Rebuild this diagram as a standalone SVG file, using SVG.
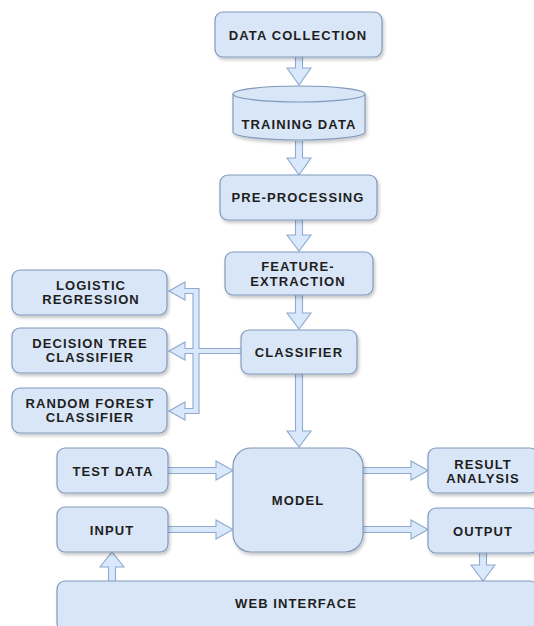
<svg xmlns="http://www.w3.org/2000/svg" width="534" height="626" viewBox="0 0 534 626">
<defs>
<filter id="sh" x="-10%" y="-10%" width="130%" height="140%">
<feDropShadow dx="1.5" dy="2.5" stdDeviation="1.5" flood-color="#000" flood-opacity="0.22"/>
</filter>
<style>
.box{fill:#d9e6f7;stroke:#8099bd;stroke-width:1.2;filter:url(#sh)}
.arr{fill:#dae8fc;stroke:#8fa9cf;stroke-width:1.1;stroke-linejoin:miter}
text{font-family:"Liberation Sans",Arial,sans-serif;font-weight:bold;font-size:13px;fill:#1e1e1e;text-anchor:middle;dominant-baseline:central;letter-spacing:1.1px}
</style>
</defs>
<rect width="534" height="626" fill="#fff"/>
<g id="connectors">
<path class="arr" d="M295.5,57 V68 H287 L299,85 L311,68 H302.5 V57"/>
<path class="arr" d="M295.5,141 V158 H287 L299,175 L311,158 H302.5 V141"/>
<path class="arr" d="M295.5,220 V235 H287 L299,251 L311,235 H302.5 V220"/>
<path class="arr" d="M295.5,295 V313 H287 L299,329 L311,313 H302.5 V295"/>
<path class="arr" d="M295.5,374 V431 H287 L299,447 L311,431 H302.5 V374"/>
<path class="arr" d="M241,348.5 H199 V288.5 H185 V282 L169,291 L185,300 V293.5 H193 V348.5 H185 V342 L169,351 L185,360 V353.5 H193 V408.5 H185 V402 L169,411 L185,420 V413.5 H199 V353.5 H241"/>
<path class="arr" d="M168,467.5 H216 V461 L233,470.5 L216,480 V473.5 H168"/>
<path class="arr" d="M168,526.5 H216 V520 L233,529.5 L216,539 V532.5 H168"/>
<path class="arr" d="M363,467.5 H411 V461 L428,470.5 L411,480 V473.5 H363"/>
<path class="arr" d="M363,526.5 H411 V520 L428,529.5 L411,539 V532.5 H363"/>
<path class="arr" d="M479.5,553 V565 H471 L483,581 L495,565 H486.5 V553"/>
<path class="arr" d="M115.5,581 V567 H124 L112,552 L100,567 H108.5 V581"/>
</g>
<g id="data-collection"><rect class="box" x="215" y="12" width="167" height="45" rx="8"/><text x="298" y="35">DATA COLLECTION</text></g>
<g id="training-data">
<path class="box" d="M233,94 A66,8 0 0 1 365,94 V132 A66,8 0 0 1 233,132 Z"/>
<path d="M233,94 A66,8 0 0 0 365,94" fill="none" stroke="#8099bd" stroke-width="1.2"/>
<text x="299" y="124">TRAINING DATA</text></g>
<g id="pre-processing"><rect class="box" x="220" y="175" width="157" height="45" rx="8"/><text x="298" y="197">PRE-PROCESSING</text></g>
<g id="feature-extraction"><rect class="box" x="225" y="252" width="148" height="43" rx="8"/><text x="298" y="266">FEATURE-</text><text x="298" y="281">EXTRACTION</text></g>
<g id="classifier"><rect class="box" x="241" y="330" width="116" height="44" rx="8"/><text x="299" y="352">CLASSIFIER</text></g>
<g id="logistic-regression"><rect class="box" x="12" y="270" width="155" height="45" rx="8"/><text x="91" y="285">LOGISTIC</text><text x="91" y="299">REGRESSION</text></g>
<g id="decision-tree"><rect class="box" x="12" y="328" width="155" height="45" rx="8"/><text x="90" y="343">DECISION TREE</text><text x="90" y="357">CLASSIFIER</text></g>
<g id="random-forest"><rect class="box" x="12" y="388" width="155" height="45" rx="8"/><text x="90" y="403">RANDOM FOREST</text><text x="90" y="417">CLASSIFIER</text></g>
<g id="test-data"><rect class="box" x="57" y="448" width="111" height="45" rx="8"/><text x="113" y="471">TEST DATA</text></g>
<g id="input"><rect class="box" x="57" y="507" width="111" height="45" rx="8"/><text x="112" y="530">INPUT</text></g>
<g id="model"><rect class="box" x="233" y="448" width="130" height="104" rx="18"/><text x="298" y="500">MODEL</text></g>
<g id="result-analysis"><rect class="box" x="428" y="448" width="110" height="45" rx="8"/><text x="483" y="464">RESULT</text><text x="483" y="478">ANALYSIS</text></g>
<g id="output"><rect class="box" x="428" y="508" width="110" height="45" rx="8"/><text x="483" y="531">OUTPUT</text></g>
<g id="web-interface"><rect class="box" x="57" y="581" width="481" height="50" rx="8"/><text x="296" y="603">WEB INTERFACE</text></g>
</svg>
